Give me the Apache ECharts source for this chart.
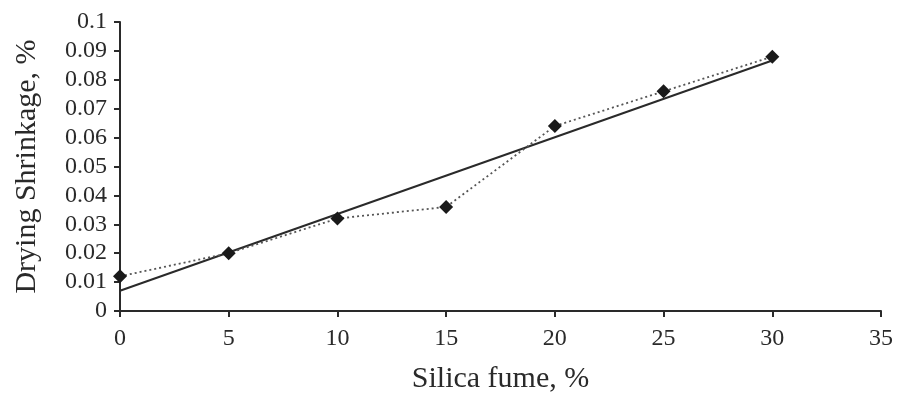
<!DOCTYPE html>
<html>
<head>
<meta charset="utf-8">
<script src="https://cdn.jsdelivr.net/npm/echarts@6/dist/echarts.min.js"></script>
<style>
  html, body { margin: 0; padding: 0; background: #fff; }
  #chart { width: 903px; height: 399px; }
</style>
</head>
<body>
<div id="chart"></div>
<script>
// Silica fume content (%) and measured drying shrinkage (%)
const silicaFume = [0, 5, 10, 15, 20, 25, 30];
const shrinkage = [0.012, 0.020, 0.032, 0.036, 0.064, 0.076, 0.088];
// Linear trend line end points
const trendX = [0, 30];
const trendY = [0.007, 0.0867];

const FONT = '"Liberation Serif", "DejaVu Serif", serif';
const INK = '#2a2a2a';

const chart = echarts.init(document.getElementById('chart'), null, { renderer: 'canvas' });
chart.setOption({
  animation: false,
  backgroundColor: '#fff',
  grid: { left: 120, right: 22, top: 22, bottom: 87 },
  xAxis: {
    type: 'value',
    min: 0, max: 35, interval: 5,
    name: 'Silica fume, %',
    nameLocation: 'middle',
    nameGap: 53,
    nameTextStyle: { fontFamily: FONT, fontSize: 30, color: INK },
    axisLine: { onZero: false, lineStyle: { color: INK, width: 2 } },
    axisTick: { show: true, inside: false, length: 6, lineStyle: { color: INK, width: 2 } },
    axisLabel: { fontFamily: FONT, fontSize: 24, color: INK, margin: 16 },
    splitLine: { show: false }
  },
  yAxis: {
    type: 'value',
    min: 0, max: 0.1, interval: 0.01,
    name: 'Drying Shrinkage, %',
    nameLocation: 'middle',
    nameGap: 78,
    nameTextStyle: { fontFamily: FONT, fontSize: 30, color: INK },
    axisLine: { show: true, lineStyle: { color: INK, width: 2 } },
    axisTick: { show: true, inside: false, length: 6, lineStyle: { color: INK, width: 2 } },
    axisLabel: {
      fontFamily: FONT, fontSize: 24, color: INK, margin: 13,
      formatter: v => (Math.round(v * 100) / 100).toString()
    },
    splitLine: { show: false }
  },
  series: [
    {
      name: 'Trend',
      type: 'line',
      data: trendX.map((x, i) => [x, trendY[i]]),
      symbol: 'none',
      lineStyle: { color: INK, width: 2 },
      z: 2
    },
    {
      name: 'Measured',
      type: 'line',
      data: silicaFume.map((x, i) => [x, shrinkage[i]]),
      symbol: 'diamond',
      symbolSize: 14,
      itemStyle: { color: '#1a1a1a' },
      lineStyle: { color: '#555', width: 1.8, type: [2, 3] },
      z: 3
    }
  ]
});
</script>
</body>
</html>
